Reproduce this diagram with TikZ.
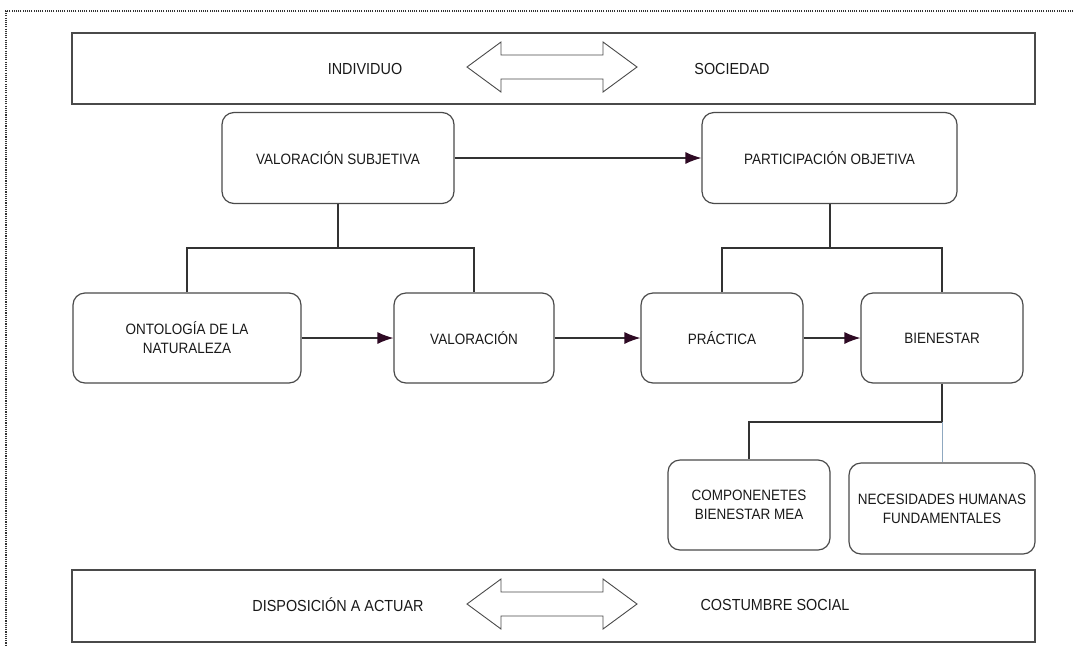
\documentclass[tikz,border=0pt]{standalone}
\usepackage{fontspec}
\setmainfont{Liberation Sans}[FakeStretch=0.9]
\usetikzlibrary{arrows.meta}
\definecolor{edge}{HTML}{4A4A4A}
\definecolor{wire}{HTML}{333333}
\definecolor{tipc}{HTML}{2E0A24}
\definecolor{bluewire}{HTML}{8FA8C0}
\begin{document}
\begin{tikzpicture}[x=1pt,y=-1pt,
  every node/.style={font=\fontsize{15}{19}\selectfont, text=black!90},
  bandtext/.style={inner sep=0pt, font=\fontsize{16}{19}\selectfont},
  band/.style={draw=edge, line width=1.2pt, rectangle, inner sep=0pt},
  card/.style={draw=edge, line width=1.2pt, rectangle, rounded corners=12pt, align=center, inner sep=0pt},
  link/.style={draw=wire, line width=1.2pt},
  flow/.style={draw=wire, line width=1.2pt, -{Latex[length=16pt,width=12pt,fill=tipc,color=tipc]}},
  twoway/.style={draw=edge, line width=0.9pt, fill=white}
]
\useasboundingbox (0,0) rectangle (1075,646);

% dotted outer frame (top and left edges)
\draw[line width=1.1pt, dash pattern=on 1.1pt off 1.1pt, black!80] (1073,11) -- (6,11) -- (6,646);

% top band
\node[band, minimum width=963, minimum height=71] (topband) at (553.5,68.5) {};
\node[bandtext] (indiv) at (365,69) {INDIVIDUO};
\node[bandtext] (soc) at (732,69) {SOCIEDAD};
\draw[twoway] (467,67) -- (501,42) -- (501,55) -- (603,55) -- (603,42) -- (637,67)
  -- (603,92) -- (603,79) -- (501,79) -- (501,92) -- cycle;

% bottom band
\node[band, minimum width=963, minimum height=72] (botband) at (553.5,606) {};
\node[bandtext] (disp) at (338,605) {DISPOSICIÓN A ACTUAR};
\node[bandtext] (cost) at (775,605) {COSTUMBRE SOCIAL};
\draw[twoway] (467,604) -- (501,579) -- (501,592) -- (603,592) -- (603,579) -- (637,604)
  -- (603,629) -- (603,616) -- (501,616) -- (501,629) -- cycle;

% upper level
\node[card, minimum width=232, minimum height=91] (vs) at (338,158) {VALORACIÓN SUBJETIVA};
\node[card, minimum width=255, minimum height=91] (po) at (829.5,158) {PARTICIPACIÓN OBJETIVA};

% middle level
\node[card, minimum width=228, minimum height=90] (onto) at (187,338) {ONTOLOGÍA DE LA\\NATURALEZA};
\node[card, minimum width=160, minimum height=90] (val) at (474,338) {VALORACIÓN};
\node[card, minimum width=162, minimum height=90] (prac) at (722,338) {PRÁCTICA};
\node[card, minimum width=162, minimum height=90] (bien) at (942,338) {BIENESTAR};

% lower level
\node[card, minimum width=162, minimum height=90] (comp) at (749,505) {COMPONENETES\\BIENESTAR MEA};
\node[card, minimum width=186, minimum height=91] (nec) at (942,508.5) {NECESIDADES HUMANAS\\FUNDAMENTALES};

% junction points of the branching connectors
\coordinate (vsj) at (338,248);
\coordinate (poj) at (830,248);
\coordinate (bij) at (942,422);

% flow arrows
\draw[flow] (vs.east) -- (po.west);
\draw[flow] (onto.east) -- (val.west);
\draw[flow] (val.east) -- (prac.west);
\draw[flow] (prac.east) -- (bien.west);

% branching connectors
\draw[link] (vs.south) -- (vsj);
\draw[link] (onto.north) |- (vsj) -| (val.north);
\draw[link] (po.south -| poj) -- (poj);
\draw[link] (prac.north) |- (poj) -| (bien.north);
\draw[link] (bien.south) -- (bij) -| (comp.north);
\draw[draw=bluewire, line width=0.9pt] (bij) -- (nec.north);
\end{tikzpicture}
\end{document}
